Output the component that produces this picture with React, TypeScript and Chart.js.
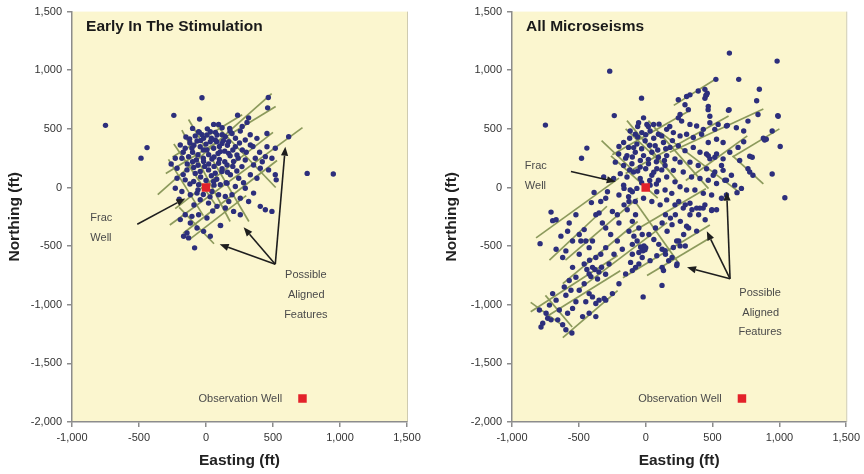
import React, { useEffect, useRef } from "react";
import { Chart, registerables } from "chart.js";

Chart.register(...registerables);

// ---------- axis / tick data ----------
const X_MIN = -1000;
const X_MAX = 1500;
const Y_MIN = -2000;
const Y_MAX = 1500;
const TICK_STEP = 500;

// ---------- wells ----------
const fracWell: [number, number][] = [[0, 0]];
const observationWell: [number, number][] = [[720, -1800]];

// ---------- microseismic events: early in the stimulation ----------
const earlyEvents: [number, number][] = [
  [-750, 530], [-440, 340], [-485, 250], [-30, 765], [-240, 615], [755, 120], [950, 115],
  [465, 767], [460, 679], [236, 617], [318, 594], [306, 555], [-48, 583], [57, 538], [94, 538], [177, 504], [256, 481], [455, 461], [617, 433],
  [-100, 504], [-55, 475], [7, 447], [32, 475], [82, 447], [144, 433], [194, 461], [293, 405], [380, 419], [455, 348], [517, 334],
  [-122, 413], [-67, 396], [-18, 419], [32, 390], [69, 405], [119, 376], [169, 390], [219, 348], [271, 320], [331, 362],
  [-192, 362], [-155, 334], [-105, 334], [-43, 348], [7, 320], [57, 334], [107, 306], [169, 291], [231, 277], [293, 235], [368, 249], [443, 263], [492, 249],
  [-229, 249], [-180, 249], [-130, 263], [-72, 235], [-18, 221], [44, 243], [94, 207], [157, 192], [206, 221], [268, 178], [355, 192], [405, 164], [467, 150], [517, 108], [524, 65],
  [-216, 164], [-142, 150], [-92, 170], [-43, 136], [19, 150], [69, 122], [119, 136], [182, 108], [244, 79], [331, 108], [380, 79],
  [-216, 79], [-155, 65], [-92, 51], [-55, 23], [57, 51], [107, 23], [157, 37], [219, 8], [293, -6], [355, -48],
  [-229, -6], [-180, -34], [-117, -62], [-67, -48], [44, -34], [94, -62], [144, -76], [194, -62], [256, -91], [318, -119], [405, -161], [443, -190], [492, -204],
  [-43, -105], [19, -133], [82, -161], [144, -175], [206, -204], [256, -232],
  [-155, -232], [-105, -246], [-55, -232], [7, -260], [107, -323],
  [-192, -274], [-117, -303], [-67, -345], [-18, -374], [32, -416], [-167, -416], [-142, -388], [-130, -430], [-85, -515], [109, -325],
  [-120, 380], [-80, 440], [-40, 400], [0, 370], [40, 420], [80, 390], [120, 450], [160, 360], [-100, 300], [-60, 280], [-20, 320], [20, 280],
  [60, 260], [100, 350], [140, 310], [180, 270], [-140, 200], [-100, 220], [-60, 190], [-20, 250], [20, 200], [60, 180], [100, 240], [140, 220],
  [200, 180], [-80, 120], [-40, 90], [0, 60], [40, 100], [80, 70], [120, 160], [160, 130], [-20, -60], [30, -80], [60, 20], [-120, 30],
  [-50, 470], [10, 500], [70, 470], [-170, 300], [250, 380], [220, 420], [180, 480], [120, 510], [270, 520], [330, 450],
  [-150, 430], [-90, 360], [-30, 450], [130, 400], [200, 320], [240, 250], [-170, 110], [-10, 180], [90, 290], [150, 40], [230, 140], [280, 40],
  [-90, -150], [-60, -20], [50, -200], [170, -120], [300, 300], [350, 350], [400, 300], [420, 220], [-200, -100], [-260, 200],
];

// ---------- microseismic events: all ----------
const allEvents: [number, number][] = [
  [-750, 532], [-440, 336], [-480, 249], [-269, 992], [-31, 762], [-235, 613], [626, 1146], [983, 1078], [696, 922], [525, 922], [850, 838],
  [991, 608], [1006, 350], [946, 115], [1041, -87], [-790, -479], [-783, -1190], [-552, -1241], [-19, -933], [122, -835], [619, 658], [830, 740],
  [443, 760], [450, 785], [460, 804], [467, 664], [624, 664], [988, 613], [840, 622], [765, 566], [611, 530], [480, 552], [733, 482], [946, 482],
  [733, 390], [902, 412], [880, 420], [890, 405], [517, 496], [778, 266], [797, 258], [703, 230], [517, 258], [455, 286], [480, 244], [567, 188],
  [765, 160], [778, 132], [802, 104], [517, 132], [505, 104], [592, 62], [716, -8], [683, -44], [493, -196], [430, -176],
  [443, 837], [455, 790], [393, 823], [331, 790], [306, 776], [244, 748], [294, 706], [319, 664], [468, 692], [257, 622], [244, 594], [269, 566],
  [-16, 594], [-53, 552], [9, 538], [59, 538], [331, 538], [381, 524], [431, 496], [480, 608], [542, 538], [604, 524], [678, 510],
  [-116, 482], [-78, 454], [-29, 468], [33, 482], [95, 454], [157, 496], [207, 468], [257, 440], [306, 454], [356, 426], [418, 454], [468, 384], [530, 412], [579, 384],
  [-165, 384], [-128, 342], [-66, 370], [-4, 398], [71, 356], [133, 384], [182, 342], [244, 356], [294, 314], [356, 342], [406, 300], [468, 272], [530, 286], [579, 244], [629, 300], [691, 342],
  [-202, 286], [-140, 272], [-78, 300], [-16, 272], [46, 300], [95, 258], [157, 272], [219, 244], [257, 216], [331, 216], [393, 188], [455, 160], [579, 146], [641, 104],
  [-227, 216], [-165, 188], [-103, 202], [-41, 174], [21, 202], [83, 160], [145, 188], [207, 146], [281, 132], [343, 90], [406, 76], [468, 62], [530, 34], [604, 62], [666, 20],
  [-190, 118], [-140, 90], [-91, 132], [-41, 76], [46, 104], [95, 62], [157, 90], [219, 48], [257, 6], [306, -22], [368, -22], [431, -50], [493, -64], [567, -92], [604, -64],
  [-165, 20], [-116, -22], [-66, -8], [33, 20], [83, -36], [145, -22], [195, -50],
  [-128, -78], [-78, -120], [-16, -92], [46, -120], [108, -148], [157, -106], [219, -148], [281, -176], [331, -134], [381, -176], [443, -148], [530, -190],
  [-314, 90], [-240, 76],
  [-120, 420], [-60, 430], [0, 450], [60, 420], [120, 440], [-90, 340], [-30, 330], [30, 360], [90, 320], [150, 330], [-150, 250], [-100, 260],
  [-40, 230], [20, 240], [80, 220], [140, 230], [-120, 150], [-60, 140], [0, 160], [60, 130], [120, 150], [-30, 40], [30, 60], [80, 30],
  [-200, 350], [-60, 520], [20, 520], [100, 540], [180, 520], [200, 400],
  [-386, -42], [-406, -129], [-373, -232], [-349, -218], [-522, -232], [-584, -373], [-572, -303], [-708, -210], [-696, -283], [-670, -275],
  [-634, -415], [-485, -457], [-460, -359], [-423, -513], [-398, -457], [-324, -303], [-299, -345], [-262, -401], [-249, -205], [-212, -232],
  [-200, -303], [-162, -148], [-125, -120], [-138, -190], [-100, -289], [-76, -232], [-51, -345], [-125, -373], [-88, -415], [-64, -457],
  [-26, -401], [-100, -485], [-51, -555], [0, -513], [-26, -597], [24, -401], [61, -443], [98, -485], [123, -527], [73, -345], [123, -303],
  [160, -373], [197, -317], [148, -232], [185, -261], [222, -232], [259, -289], [284, -401], [321, -345], [247, -457], [296, -499], [148, -569],
  [197, -597], [234, -653], [123, -681], [172, -625], [-100, -569], [-113, -639], [-76, -681], [-212, -457], [-175, -527], [-237, -569],
  [-299, -513], [-336, -569], [-274, -653], [-373, -597], [-398, -681], [-423, -737], [-460, -653], [-497, -569], [-547, -681], [-522, -765],
  [-572, -793], [-609, -849], [-597, -919], [-559, -877], [-497, -877], [-460, -821], [-423, -905], [-448, -975], [-398, -933], [-373, -989],
  [-349, -961], [-311, -947], [-522, -975], [-547, -1031], [-584, -1073], [-646, -1045], [-670, -961], [-696, -905], [-720, -1003], [-745, -1073],
  [-733, -1115], [-708, -1129], [-770, -1157], [-658, -1129], [-621, -1171], [-597, -1213], [-795, -1045], [-472, -1101], [-423, -1073], [-373, -1101],
  [-299, -961], [-249, -905], [-200, -821], [-150, -737], [-100, -709], [-51, -653], [-621, -597], [-597, -541], [-670, -527], [-547, -457],
  [-497, -401], [-448, -457], [-336, -120], [-299, -92], [-286, -36], [-200, -64], [-162, -8], [-100, -36], [-26, -527], [-13, -499],
  [-38, -507], [-20, -540], [-5, -530], [247, -120], [296, -148], [346, -190], [396, -232], [445, -275], [495, -190],
  [405, -176], [331, -232], [381, -372], [306, -330], [232, -456], [257, -498], [207, -512], [145, -540], [83, -582], [33, -624], [232, -666], [133, -708],
  [-380, -700], [-350, -720], [-330, -680], [-410, -760], [-360, -780], [-300, -740], [-420, -620], [-440, -700],
];

// ---------- possible aligned features (x1, y1, x2, y2) ----------
const earlyFeatures: [number, number, number, number][] = [
  [-360, -60, 490, 800],
  [-300, 120, 520, 690],
  [-250, 260, 270, 620],
  [-230, -180, 500, 470],
  [-270, -320, 720, 510],
  [-170, -390, 530, 230],
  [-120, -440, 300, -70],
  [-130, 580, 320, -290],
  [-180, 490, 180, -290],
  [-240, 370, 90, -180],
  [-280, 240, -20, -240],
  [60, 550, 520, 0],
  [-200, -170, 60, -480],
];

const allFeatures: [number, number, number, number][] = [
  [-820, -430, -200, 80],
  [-720, -620, -290, -160],
  [-600, -620, -60, -90],
  [-620, -820, -60, -290],
  [-490, -860, 160, -300],
  [-860, -1060, -210, -580],
  [-740, -1100, -190, -710],
  [-620, -1280, -210, -880],
  [-170, -770, 480, -320],
  [10, -750, 480, -430],
  [210, 700, 530, 930],
  [180, 300, 880, 670],
  [-150, 120, 620, 610],
  [650, 260, 1000, 500],
  [-250, 280, 320, 650],
  [300, 60, 760, 440],
  [-100, -380, 450, -10],
  [-150, 500, 180, 140],
  [-260, 270, 90, -90],
  [-140, 570, 240, 50],
  [20, 570, 470, -10],
  [110, 470, 700, -40],
  [650, 270, 880, 30],
  [-860, -980, -630, -1170],
  [-750, -920, -550, -1190],
  [-80, -120, 250, -650],
  [-330, 400, -80, 130],
];

// ---------- annotation anchors (data coordinates) ----------
type Arrow = [number, number, number, number];
type Label = { text: string; x: number; y: number; align: CanvasTextAlign };

type PanelCfg = {
  left: number;
  title: string;
  events: [number, number][];
  features: [number, number, number, number][];
  arrows: Arrow[];
  labels: Label[];
  yAxisWidth: number;
  padRight: number;
  padTop: number;
  yTitlePad: number;
};

const leftPanel: PanelCfg = {
  left: 0,
  title: "Early In The Stimulation",
  events: earlyEvents,
  features: earlyFeatures,
  arrows: [
    [-513, -314, -154, -93],
    [517, -654, 592, 348],
    [517, -654, 281, -340],
    [517, -654, 102, -484],
  ],
  labels: [
    { text: "Frac", x: -863, y: -263, align: "left" },
    { text: "Well", x: -863, y: -433, align: "left" },
    { text: "Possible", x: 745, y: -747, align: "center" },
    { text: "Aligned", x: 748, y: -917, align: "center" },
    { text: "Features", x: 745, y: -1083, align: "center" },
    { text: "Observation Well", x: 256, y: -1800, align: "center" },
  ],
  yAxisWidth: 72,
  padRight: 25,
  padTop: 9,
  yTitlePad: 5.7,
};

const rightPanel: PanelCfg = {
  left: 432,
  title: "All Microseisms",
  events: allEvents,
  features: allFeatures,
  arrows: [
    [-559, 137, -224, 48],
    [631, -779, 606, -36],
    [631, -779, 457, -373],
    [631, -779, 309, -681],
  ],
  labels: [
    { text: "Frac", x: -904, y: 182, align: "left" },
    { text: "Well", x: -904, y: 14, align: "left" },
    { text: "Possible", x: 856, y: -902, align: "center" },
    { text: "Aligned", x: 860, y: -1070, align: "center" },
    { text: "Features", x: 856, y: -1229, align: "center" },
    { text: "Observation Well", x: 256, y: -1800, align: "center" },
  ],
  yAxisWidth: 80,
  padRight: 16,
  padTop: 8,
  yTitlePad: 10.7,
};

const FONT = "'Liberation Sans', Arial, Helvetica, sans-serif";
const PLOT_BG = "#fbf6cf";
const AXIS_GRAY = "#8c8c8c";
const DOT = "#2d2f7c";
const FEATURE = "#8c9a5c";
const RED = "#e3222a";

const fmt = (v: number) => Number(v).toLocaleString("en-US");

function drawArrow(ctx: CanvasRenderingContext2D, x1: number, y1: number, x2: number, y2: number) {
  const ang = Math.atan2(y2 - y1, x2 - x1);
  const head = 9;
  const w = 3.6;
  const bx = x2 - head * Math.cos(ang);
  const by = y2 - head * Math.sin(ang);
  ctx.beginPath();
  ctx.moveTo(x1, y1);
  ctx.lineTo(bx, by);
  ctx.stroke();
  ctx.beginPath();
  ctx.moveTo(x2, y2);
  ctx.lineTo(bx + w * Math.sin(ang), by - w * Math.cos(ang));
  ctx.lineTo(bx - w * Math.sin(ang), by + w * Math.cos(ang));
  ctx.closePath();
  ctx.fill();
}

function makePlugin(cfg: PanelCfg) {
  return {
    id: "panelDecor",
    beforeDraw(chart: any) {
      const { ctx, chartArea: a } = chart;
      ctx.save();
      ctx.fillStyle = PLOT_BG;
      ctx.fillRect(a.left, a.top, a.right - a.left, a.bottom - a.top);
      ctx.strokeStyle = "#cfcbb0";
      ctx.lineWidth = 1;
      ctx.beginPath();
      ctx.moveTo(a.right + 0.5, a.top);
      ctx.lineTo(a.right + 0.5, a.bottom);
      ctx.stroke();
      ctx.restore();
    },
    afterDatasetsDraw(chart: any) {
      const { ctx } = chart;
      const xs = chart.scales.x;
      const ys = chart.scales.y;
      const px = (v: number) => xs.getPixelForValue(v);
      const py = (v: number) => ys.getPixelForValue(v);
      ctx.save();
      ctx.strokeStyle = "#1e1e1e";
      ctx.fillStyle = "#1e1e1e";
      ctx.lineWidth = 1.6;
      cfg.arrows.forEach(([x1, y1, x2, y2]) => drawArrow(ctx, px(x1), py(y1), px(x2), py(y2)));
      ctx.fillStyle = "#4a4a4a";
      ctx.font = `11px ${FONT}`;
      ctx.textBaseline = "middle";
      cfg.labels.forEach((l) => {
        ctx.textAlign = l.align;
        ctx.fillText(l.text, px(l.x), py(l.y));
      });
      ctx.fillStyle = "#1a1a1a";
      ctx.font = `bold 15.5px ${FONT}`;
      ctx.textAlign = "left";
      ctx.fillText(cfg.title, px(-895), py(1370));
      ctx.restore();
    },
  };
}

function buildConfig(cfg: PanelCfg): any {
  const featureSets = cfg.features.map(([x1, y1, x2, y2]) => ({
    data: [
      { x: x1, y: y1 },
      { x: x2, y: y2 },
    ],
    showLine: true,
    borderColor: FEATURE,
    borderWidth: 1.7,
    pointRadius: 0,
    pointHoverRadius: 0,
  }));
  return {
    type: "scatter",
    data: {
      datasets: [
        {
          data: [...fracWell, ...observationWell].map(([x, y]) => ({ x, y })),
          pointStyle: "rect",
          pointRadius: 6,
          backgroundColor: RED,
          borderColor: RED,
          borderWidth: 0,
        },
        {
          data: cfg.events.map(([x, y]) => ({ x, y })),
          pointStyle: "circle",
          pointRadius: 2.7,
          backgroundColor: DOT,
          borderColor: DOT,
          borderWidth: 0,
        },
        ...featureSets,
      ],
    },
    options: {
      animation: false,
      responsive: false,
      events: [],
      layout: { padding: { left: 0, right: cfg.padRight, top: cfg.padTop, bottom: 0 } },
      plugins: { legend: { display: false }, tooltip: { enabled: false } },
      scales: {
        x: {
          type: "linear",
          min: X_MIN,
          max: X_MAX,
          afterFit: (s: any) => {
            s.height = 52;
          },
          ticks: {
            stepSize: TICK_STEP,
            callback: (v: number) => fmt(v),
            font: { family: FONT, size: 11 },
            color: "#333",
            padding: 4,
            maxRotation: 0,
          },
          grid: { drawOnChartArea: false, drawTicks: true, tickLength: 5, color: AXIS_GRAY, lineWidth: 1.5 },
          border: { display: true, color: AXIS_GRAY, width: 1.5 },
          title: {
            display: true,
            text: "Easting (ft)",
            font: { family: FONT, size: 15.5, weight: "bold" },
            color: "#222",
            padding: { top: 0, bottom: 3.5 },
          },
        },
        y: {
          type: "linear",
          min: Y_MIN,
          max: Y_MAX,
          afterFit: (s: any) => {
            s.width = cfg.yAxisWidth;
          },
          ticks: {
            stepSize: TICK_STEP,
            callback: (v: number) => fmt(v),
            font: { family: FONT, size: 11 },
            color: "#333",
            padding: 5,
          },
          grid: { drawOnChartArea: false, drawTicks: true, tickLength: 5, color: AXIS_GRAY, lineWidth: 1.5 },
          border: { display: true, color: AXIS_GRAY, width: 1.5 },
          title: {
            display: true,
            text: "Northing (ft)",
            font: { family: FONT, size: 15.5, weight: "bold" },
            color: "#222",
            padding: { top: cfg.yTitlePad, bottom: 0 },
          },
        },
      },
    },
    plugins: [makePlugin(cfg)],
  };
}

function Panel({ cfg }: { cfg: PanelCfg }) {
  const ref = useRef<HTMLCanvasElement | null>(null);
  useEffect(() => {
    if (!ref.current) return;
    const chart = new Chart(ref.current, buildConfig(cfg));
    return () => chart.destroy();
  }, [cfg]);
  return (
    <canvas
      ref={ref}
      width={432}
      height={474}
      style={{ position: "absolute", left: cfg.left, top: 0, width: 432, height: 474 }}
    />
  );
}

export default function App() {
  return (
    <div
      style={{
        position: "fixed",
        left: 0,
        top: 0,
        width: 864,
        height: 474,
        background: "#ffffff",
        overflow: "hidden",
      }}
    >
      <Panel cfg={leftPanel} />
      <Panel cfg={rightPanel} />
    </div>
  );
}
